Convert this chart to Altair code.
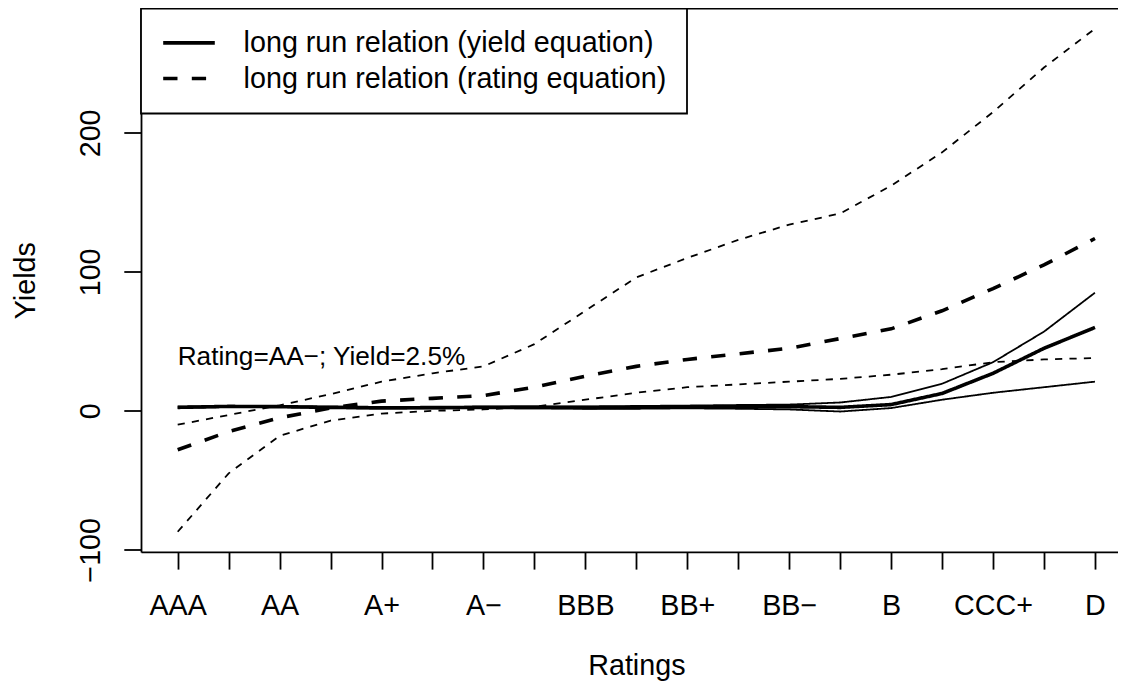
import altair as alt
import pandas as pd

# ---------------- data ----------------
ratings = ["AAA", "AA+", "AA", "AA\u2212", "A+", "A", "A\u2212", "BBB+", "BBB", "BBB\u2212",
           "BB+", "BB", "BB\u2212", "B+", "B", "B\u2212", "CCC+", "CCC", "D"]

yield_center = [2.5, 3.2, 3.0, 2.5, 2.2, 2.3, 2.5, 2.5, 2.3, 2.5, 2.8, 3.0, 3.0, 2.5, 4.5, 12.5, 27, 45, 60]
yield_upper = [3.0, 3.5, 3.3, 3.0, 2.8, 2.8, 3.0, 3.2, 3.2, 3.5, 3.8, 4.2, 4.5, 6.0, 10, 19.5, 35, 57, 85]
yield_lower = [2.0, 2.8, 2.7, 2.0, 1.6, 1.8, 2.0, 1.8, 1.5, 1.5, 1.8, 1.5, 1.0, -0.5, 2.0, 8.0, 13, 17, 21]

rating_center = [-28, -15, -5, 2, 7, 9, 11, 17, 25, 32, 37, 41, 45, 52, 59, 72, 88, 105, 124]
rating_upper = [-10, -3, 4, 12, 21, 27, 32, 48, 72, 96, 110, 123, 134, 142, 162, 186, 215, 247, 275]
rating_lower = [-87, -45, -18, -7, -2, 0, 1, 3, 8, 13, 17, 19, 21, 23, 26, 30, 35, 37, 38]

legend_labels = ["long run relation (yield equation)", "long run relation (rating equation)"]
y_ticks = [-100, 0, 100, 200]

note_text = "Rating=AA\u2212; Yield=2.5%"
note_pos = 1
note_value = 40

# axis extents (R style: data range + 4%)
x_lo, x_hi = 0.28, 19.452
y_lo, y_hi = -101.5, 289.5

# ---------------- table ----------------
rows = []
for sid, eq, band, vals in [
    ("yc", legend_labels[0], "center", yield_center),
    ("yu", legend_labels[0], "bound", yield_upper),
    ("yl", legend_labels[0], "bound", yield_lower),
    ("rc", legend_labels[1], "center", rating_center),
    ("ru", legend_labels[1], "bound", rating_upper),
    ("rl", legend_labels[1], "bound", rating_lower),
]:
    for i, v in enumerate(vals):
        rows.append({"pos": i + 1, "value": v, "series": sid, "equation": eq, "band": band})
df = pd.DataFrame(rows)
note_df = pd.DataFrame({"pos": [note_pos], "value": [note_value], "text": [note_text]})
frame_df = pd.DataFrame({"pos": [x_lo], "pos2": [x_hi], "value": [y_hi]})

FONT = "Liberation Sans"
FS = 28.7

names_js = "[" + ",".join("'" + r + "'" for r in ratings) + "]"
label_expr = f"datum.value % 2 == 1 ? {names_js}[datum.value - 1] : ''"

x_enc = alt.X(
    "pos:Q",
    scale=alt.Scale(domain=[x_lo, x_hi], nice=False, zero=False),
    axis=alt.Axis(
        values=list(range(1, len(ratings) + 1)),
        labelExpr=label_expr,
        title="Ratings",
        titleX=495.35,
        titleY=122.3,
        titleAlign="center",
        titleBaseline="alphabetic",
        labelAlign="center",
        labelBaseline="alphabetic",
        labelPadding=44.9,
        labelOverlap=False,
        labelFlush=False,
        labelBound=False,
    ),
)
y_enc = alt.Y(
    "value:Q",
    scale=alt.Scale(domain=[y_lo, y_hi], nice=False, zero=False),
    axis=alt.Axis(
        values=y_ticks,
        title="Yields",
        titleAngle=270,
        titleX=-107,
        titleY=271.7,
        titleAlign="center",
        titleBaseline="alphabetic",
        labelAngle=270,
        labelAlign="center",
        labelBaseline="alphabetic",
        labelPadding=24.1,
        labelOverlap=False,
        labelFlush=False,
        labelBound=False,
    ),
)

thin = alt.Chart(df[df["band"] == "bound"]).mark_line(
    color="black", strokeWidth=1.8, strokeCap="butt"
).encode(
    x=x_enc,
    y=y_enc,
    strokeDash=alt.StrokeDash(
        "equation:N",
        scale=alt.Scale(domain=legend_labels, range=[[1, 0], [7.2, 7.2]]),
        legend=None,
    ),
    detail="series:N",
    order="pos:Q",
)

thick = alt.Chart(df[df["band"] == "center"]).mark_line(
    color="black", strokeWidth=3.6, strokeCap="butt"
).encode(
    x=x_enc,
    y=y_enc,
    strokeDash=alt.StrokeDash(
        "equation:N",
        scale=alt.Scale(domain=legend_labels, range=[[1, 0], [14.3, 14.3]]),
        legend=alt.Legend(
            title=None,
            orient="none",
            legendX=0,
            legendY=0,
            symbolType="stroke",
            symbolSize=2663,
            symbolStrokeWidth=3.6,
            symbolStrokeColor="black",
            labelFont=FONT,
            labelFontSize=FS,
            labelColor="black",
            labelLimit=1000,
            labelOffset=26.6,
            clipHeight=28.7,
            padding=20,
            rowPadding=5.7,
            fillColor="white",
            strokeColor="black",
        ),
    ),
    detail="series:N",
    order="pos:Q",
)

note = alt.Chart(note_df).mark_text(
    align="left", baseline="alphabetic", dy=9.3, font=FONT, fontSize=26.2, color="black"
).encode(x=x_enc, y=y_enc, text="text:N")

top_edge = alt.Chart(frame_df).mark_rule(color="black", strokeWidth=1.8).encode(
    x=x_enc, x2="pos2:Q", y=y_enc
)

chart = (
    alt.layer(thin, thick, note, top_edge)
    .resolve_scale(strokeDash="independent")
    .properties(
        width=977,
        height=543.4,
        padding={"left": 133, "top": 0.5, "right": 0, "bottom": 128.6},
        autosize=alt.AutoSizeParams(type="none"),
        background="white",
    )
    .configure_view(stroke=None)
    .configure_axis(
        labelFont=FONT,
        labelFontSize=FS,
        labelColor="black",
        titleFont=FONT,
        titleFontSize=FS,
        titleFontWeight="normal",
        titleColor="black",
        tickColor="black",
        tickWidth=1.8,
        tickSize=17.2,
        domain=True,
        domainColor="black",
        domainWidth=1.8,
        grid=False,
    )
    .configure_legend(strokeWidth=1.8)
)

chart.save("out.html", embed_options={"renderer": "svg", "actions": False})
